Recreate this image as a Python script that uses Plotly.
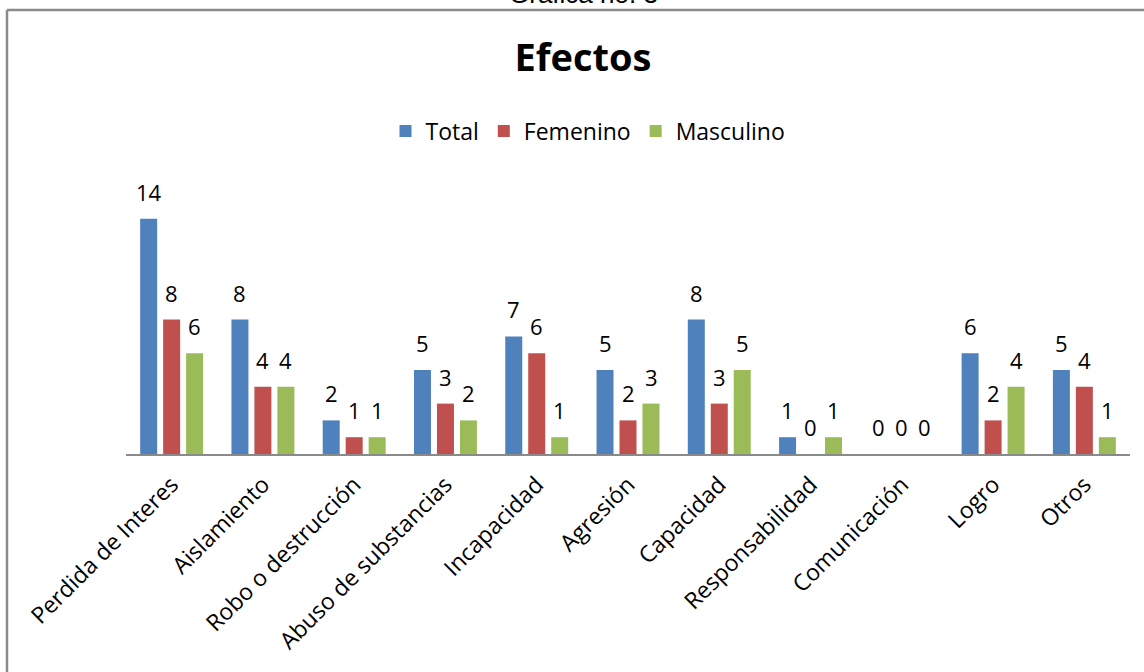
import plotly.graph_objects as go

categories = ["Perdida de Interes", "Aislamiento", "Robo o destrucción", "Abuso de substancias",
              "Incapacidad", "Agresión", "Capacidad", "Responsabilidad", "Comunicación", "Logro", "Otros"]
total = [14, 8, 2, 5, 7, 5, 8, 1, 0, 6, 5]
femenino = [8, 4, 1, 3, 6, 2, 3, 0, 0, 2, 4]
masculino = [6, 4, 1, 2, 1, 3, 5, 1, 0, 4, 1]

series = [("Total", total, "#4F81BD"), ("Femenino", femenino, "#C0504D"), ("Masculino", masculino, "#9BBB59")]

FONT = "Open Sans"
fig = go.Figure()
for name, vals, col in series:
    fig.add_trace(go.Bar(name=name, x=categories, y=vals, marker=dict(color=col, line=dict(width=0))))

# data labels
shifts = [-23, 0, 23]
for (name, vals, col), xs in zip(series, shifts):
    for c, v in zip(categories, vals):
        fig.add_annotation(x=c, y=v, text=str(v), showarrow=False, xshift=xs, yshift=27,
                           yanchor="middle", font=dict(family=FONT, size=22, color="#000000"))

# top caption (cut off at top edge as in the reference)
fig.add_annotation(text="Gráfica no. 3", xref="paper", yref="paper", x=(583 - 126) / 1004, y=(454 - 11) / 284,
                   xanchor="center", yanchor="bottom", showarrow=False,
                   font=dict(family="Liberation Sans", size=26, color="#000000"))

# chart frame
fig.add_shape(type="line", xref="paper", yref="paper", x0=(7 - 126) / 1004, x1=(7 - 126) / 1004,
              y0=-1.0, y1=(454 - 10) / 284, line=dict(color="#8a8a8a", width=2.5))
fig.add_shape(type="line", xref="paper", yref="paper", x0=(7 - 126) / 1004, x1=1.1,
              y0=(454 - 10) / 284, y1=(454 - 10) / 284, line=dict(color="#8a8a8a", width=2.5))

fig.update_layout(
    width=1144, height=672,
    margin=dict(l=126, r=14, t=170, b=218),
    paper_bgcolor="white", plot_bgcolor="white",
    barmode="group", bargap=0.245, bargroupgap=0.26,
    title=dict(text="<b>Efectos</b>", x=583 / 1144, xref="container", xanchor="center",
               y=1 - 58 / 672, yref="container", yanchor="middle",
               font=dict(family=FONT, size=38, color="#000000")),
    legend=dict(orientation="h", x=588 / 1144, xref="container", xanchor="center",
                y=1 - 131 / 672, yref="container", yanchor="middle",
                font=dict(family=FONT, size=23, color="#000000"), itemwidth=30,
                traceorder="normal"),
    font=dict(family=FONT, color="#000000"),
)
fig.update_xaxes(showline=True, linecolor="#8a8a8a", linewidth=2, ticks="", tickangle=-45,
                 ticklabelstandoff=6,
                 tickfont=dict(family=FONT, size=23, color="#000000"), showgrid=False)
fig.update_yaxes(range=[0, 284 / 16.8], showgrid=False, showticklabels=False, zeroline=False, showline=False)

fig.write_html("out.html", config={"displayModeBar": False},
               post_script="document.body.style.margin='0';document.body.style.overflow='hidden';")
